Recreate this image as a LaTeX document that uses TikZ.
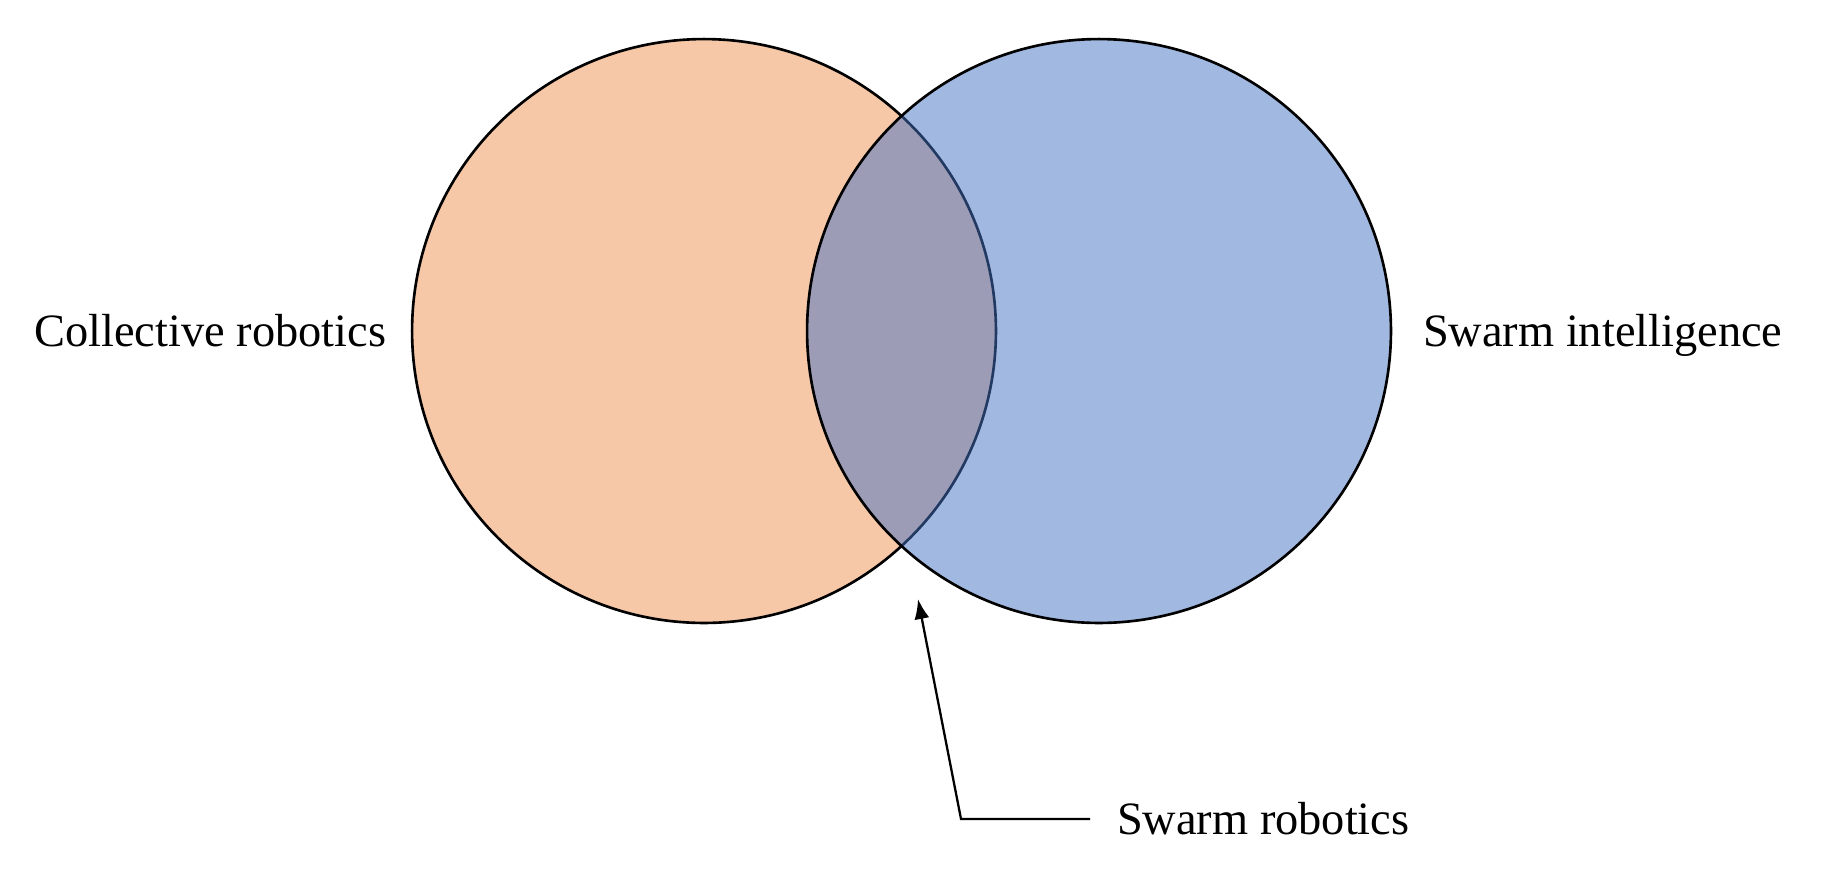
\documentclass[tikz,border=0pt]{standalone}
\usepackage{fontspec}
\setmainfont{Liberation Serif}
\usetikzlibrary{arrows.meta}
\definecolor{robfill}{HTML}{F6C8A8}
\definecolor{swarmfill}{HTML}{4472C4}
\begin{document}
\begin{tikzpicture}[%
    x=0.02cm,y=-0.02cm,
    every node/.style={inner sep=0pt,outer sep=0pt},
    venn/.style={draw,circle,line width=1.5pt,minimum size=11.68cm},
    lbl/.style={font=\fontsize{26.4}{30}\selectfont},
    pointer/.style={line width=1.3pt,-{Latex[length=0.4cm,width=0.3cm]}}
    ]
    \useasboundingbox (0,0) rectangle (1834,880);
    % the two sets
    \node[venn,fill=robfill](crob) at(704,331){};
    \node[venn,fill=swarmfill,fill opacity=0.5](swint) at(1099,331){};
    % set names
    \node[lbl,anchor=base east](crobl) at(386,346){Collective robotics};
    \node[lbl,anchor=base west](swintl) at(1423,346){Swarm intelligence};
    % the overlap
    \node[lbl,anchor=west,inner xsep=0.54cm](srob) at(1090,819){Swarm robotics};
    \coordinate (knee) at(961,819);
    \coordinate (tip) at(918,599);
    \draw[pointer](srob.west)--(knee)--(tip);
  \end{tikzpicture}
\end{document}
